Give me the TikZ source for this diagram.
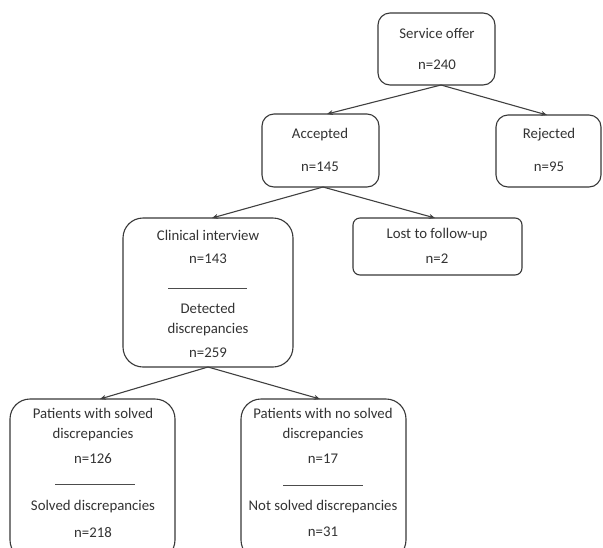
\documentclass[tikz,border=0pt]{standalone}
\usepackage{fontspec}
\setmainfont{Carlito}
\usetikzlibrary{arrows.meta}
\begin{document}
\begin{tikzpicture}[x=1pt,y=-1pt,
  box/.style={draw=black!78,line width=1.1pt,fill=white},
  lbl/.style={inner sep=0pt,text=black!80,font=\fontsize{14.8}{16}\selectfont,anchor=center},
  sep/.style={draw=black!70,line width=0.8pt},
  link/.style={draw=black!75,line width=1.1pt,-{Stealth[length=6pt,width=5pt]}}]
\useasboundingbox (0,0) rectangle (603,547);

% boxes
\draw[box,rounded corners=12pt] (378,13) rectangle (495,85);
\draw[box,rounded corners=12pt] (262,114) rectangle (379,187);
\draw[box,rounded corners=12pt] (496,115) rectangle (601,187);
\draw[box,rounded corners=7pt] (353,218) rectangle (522,275);
\draw[box,rounded corners=20pt] (123,218) rectangle (293,367);
\draw[box,rounded corners=20pt] (10,399) rectangle (175,560);
\draw[box,rounded corners=20pt] (241,399) rectangle (406,560);

% anchor points for the connectors
\coordinate (so) at (441,85);
\coordinate (acTop) at (327,114);
\coordinate (rjTop) at (547,115);
\coordinate (acBot) at (323,187);
\coordinate (ciTop) at (212,218);
\coordinate (lfTop) at (435,218);
\coordinate (ciBot) at (208,367);
\coordinate (psTop) at (100,399);
\coordinate (pnTop) at (320,399);

\draw[link] (so) -- (acTop);
\draw[link] (so) -- (rjTop);
\draw[link] (acBot) -- (ciTop);
\draw[link] (acBot) -- (lfTop);
\draw[link] (ciBot) -- (psTop);
\draw[link] (ciBot) -- (pnTop);

% texts
\node[lbl] (t1) at (437,33) {Service offer};
\node[lbl] (t2) at (437,65) {n=240};
\node[lbl] (t3) at (320,135) {Accepted};
\node[lbl] (t4) at (320,167) {n=145};
\node[lbl] (t5) at (549,135) {Rejected};
\node[lbl] (t6) at (549,167) {n=95};
\node[lbl] (t7) at (437,235) {Lost to follow-up};
\node[lbl] (t8) at (437,259) {n=2};
\node[lbl] (t9) at (208,235) {Clinical interview};
\node[lbl] (t10) at (208,259) {n=143};
\node[lbl] (t11) at (208,308) {Detected};
\node[lbl] (t12) at (208,330) {discrepancies};
\node[lbl] (t13) at (208,353) {n=259};
\node[lbl] (t14) at (93,413) {Patients with solved};
\node[lbl] (t15) at (93,435) {discrepancies};
\node[lbl] (t16) at (93,459) {n=126};
\node[lbl] (t17) at (93,507) {Solved discrepancies};
\node[lbl] (t18) at (93,532) {n=218};
\node[lbl] (t19) at (323,413) {Patients with no solved};
\node[lbl] (t20) at (323,435) {discrepancies};
\node[lbl] (t21) at (323,459) {n=17};
\node[lbl] (t22) at (323,507) {Not solved discrepancies};
\node[lbl] (t23) at (323,532) {n=31};

% separators inside the split boxes
\draw[sep] (168,288) -- (247,288);
\draw[sep] (55,484) -- (135,484);
\draw[sep] (283,485) -- (363,485);
\end{tikzpicture}
\end{document}
